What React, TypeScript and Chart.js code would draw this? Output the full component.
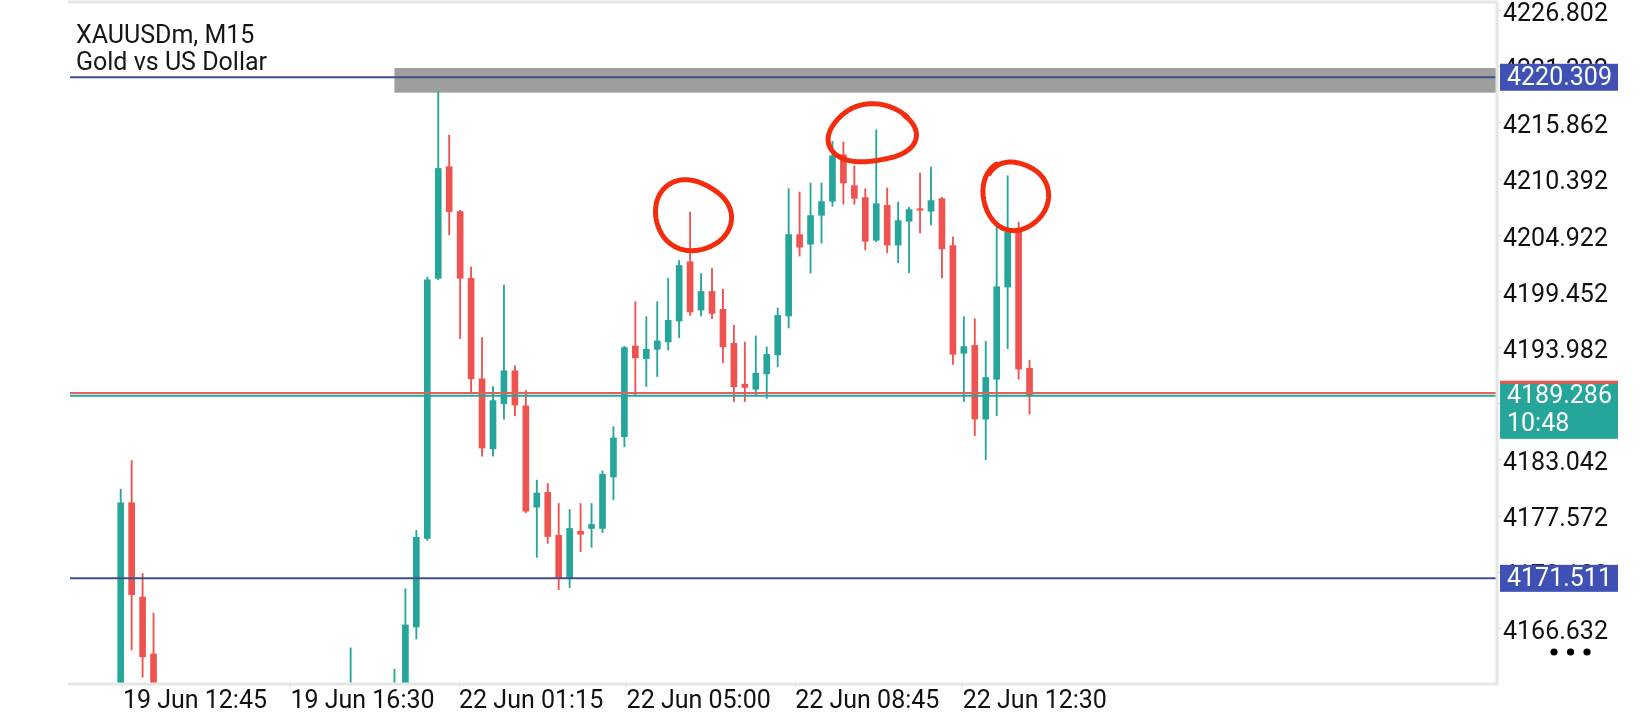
import React, { useEffect, useRef } from "react";
import { Chart, registerables } from "chart.js";

Chart.register(...registerables);

// ---------------- DATA ----------------
const symbolTitle = "XAUUSDm, M15";
const symbolName = "Gold vs US Dollar";

// bar slot (15-minute bars counted from 19 Jun 12:45)
const barNo = [
  0, 1, 2, 3, 21, 25, 26, 27, 28, 29, 30, 31, 32, 33, 34, 35, 36, 37, 38, 39, 40,
  41, 42, 43, 44, 45, 46, 47, 48, 49, 50, 51, 52, 53, 54, 55, 56, 57, 58, 59, 60,
  61, 62, 63, 64, 65, 66, 67, 68, 69, 70, 71, 72, 73, 74, 75, 76, 77, 78, 79, 80,
  81, 82, 83,
];
const opens = [
  4157.5, 4178.87, 4169.68, 4164.15, 4157.0, 4158.0, 4159.0, 4166.77, 4175.39, 4200.73, 4211.6, 4207.23, 4200.73, 4190.94, 4184.12, 4188.51, 4191.72, 4188.31, 4178.44, 4179.89, 4175.7,
  4171.51, 4176.1, 4176.37, 4176.37, 4181.38, 4185.3, 4194.14, 4192.91, 4193.82, 4194.53, 4196.57, 4202.34, 4197.64, 4199.45, 4197.71, 4194.4, 4190.42, 4189.93, 4191.42, 4193.27,
  4197.06, 4204.99, 4204.05, 4206.87, 4208.23, 4212.76, 4209.75, 4208.59, 4204.44, 4207.84, 4203.96, 4206.29, 4207.42, 4207.26, 4208.49, 4203.92, 4193.43, 4194.2, 4187.02, 4190.9,
  4199.88, 4205.25, 4191.97,
];
const highs = [
  4180.19, 4182.98, 4171.99, 4168.13, 4164.74, 4162.66, 4170.49, 4176.17, 4200.85, 4218.9, 4214.68, 4207.35, 4201.83, 4194.97, 4190.19, 4200.07, 4192.23, 4189.8, 4181.07, 4180.75, 4178.8,
  4178.21, 4178.8, 4178.8, 4181.97, 4186.28, 4194.11, 4198.45, 4196.99, 4198.45, 4200.72, 4202.47, 4207.19, 4201.2, 4201.69, 4199.65, 4196.15, 4194.53, 4195.12, 4194.05, 4197.84,
  4209.46, 4209.14, 4210.01, 4210.01, 4214.06, 4213.99, 4211.69, 4209.46, 4215.19, 4209.53, 4208.16, 4207.65, 4210.98, 4211.57, 4208.62, 4204.76, 4196.99, 4196.8, 4194.6, 4205.9,
  4210.72, 4206.22, 4192.75,
];
const lows = [
  4156.0, 4164.55, 4161.88, 4158.5, 4156.0, 4157.0, 4158.0, 4165.6, 4175.2, 4200.6, 4204.96, 4194.86, 4189.49, 4183.42, 4183.42, 4187.02, 4187.34, 4177.9, 4173.55, 4174.92, 4170.41,
  4170.61, 4174.1, 4174.53, 4175.98, 4179.19, 4184.32, 4189.29, 4190.19, 4191.16, 4193.75, 4194.95, 4197.12, 4197.06, 4196.8, 4192.52, 4188.73, 4188.73, 4189.35, 4189.03, 4192.1,
  4195.89, 4202.89, 4201.24, 4204.15, 4207.74, 4207.94, 4207.94, 4203.5, 4204.3, 4203.21, 4202.24, 4201.27, 4205.15, 4205.93, 4200.78, 4192.33, 4188.73, 4185.4, 4183.07, 4187.34,
  4193.88, 4190.9, 4187.5,
];
const closes = [
  4178.87, 4169.92, 4163.87, 4159.8, 4160.0, 4161.0, 4166.97, 4175.51, 4200.57, 4211.43, 4207.23, 4200.73, 4190.94, 4184.2, 4188.82, 4191.72, 4188.39, 4178.05, 4179.81, 4175.58, 4171.59,
  4176.37, 4175.8, 4176.76, 4181.65, 4185.18, 4193.99, 4192.98, 4193.82, 4194.63, 4196.64, 4201.98, 4197.45, 4199.45, 4197.32, 4194.05, 4190.16, 4190.1, 4191.49, 4193.33, 4197.12,
  4204.99, 4203.76, 4206.84, 4208.2, 4212.67, 4210.01, 4208.52, 4204.34, 4208.0, 4203.96, 4206.35, 4207.42, 4207.36, 4208.3, 4203.6, 4193.33, 4194.08, 4187.02, 4191.07, 4199.91,
  4205.22, 4191.88, 4189.286,
];

// time-axis labels and the bar slot where each one sits
const tickLabels = ["19 Jun 12:45", "19 Jun 16:30", "22 Jun 01:15", "22 Jun 05:00", "22 Jun 08:45", "22 Jun 12:30"];
const tickBars = [0.2, 15.5, 30.9, 46.2, 61.6, 76.9];

// price-axis tick values
const priceTicks = [
  4226.802, 4221.332, 4215.862, 4210.392, 4204.922, 4199.452, 4193.982, 4188.512, 4183.042, 4177.572,
  4172.102, 4166.632,
];

// visible window
const xRange = [-4.63, 125.69];
const yRange = [4161.22, 4227.64];

// horizontal levels
const levelPrices = [4220.309, 4171.511];
const bidPrice = 4189.286;
const askPrice = 4189.56;
const barTimer = "10:48";

// grey zone (from bar slot to right edge, between two prices)
const zoneStartBar = [25];
const zoneTop = [4221.21];
const zoneBottom = [4218.81];

// hand-drawn circles: centre in (bar slot, price)
const circleBars = [52.2, 68.6, 81.7];
const circlePrices = [4206.85, 4214.8, 4208.8];

// ---------------- STYLE ----------------
const GREEN = "#26a69a";
const RED = "#ef5350";
const LEVEL_BLUE = "#3f4e8c";
const BOX_BLUE = "#3f51b5";
const FRAME = "#e6e6e6";
const FONT = "Roboto";
const PEN = "#f42c0e";
const circleStyle = [
  { rx: 37, ry: 36, start: -2.3, sweep: 6.45, grow: 0.0, wob: [0.05, 0.5, 0.035, 1.6] },
  { rx: 42, ry: 30, start: -0.7, sweep: 6.4, grow: 0.02, wob: [0.06, 2.3, 0.05, 0.5] },
  { rx: 31.5, ry: 35.5, start: -2.5, sweep: 6.62, grow: 0.05, wob: [0.04, 1.0, 0.035, 2.1] },
];

function drawLoop(ctx: CanvasRenderingContext2D, cx: number, cy: number, st: any) {
  const n = 140;
  ctx.beginPath();
  for (let k = 0; k <= n; k++) {
    const t = st.start + (st.sweep * k) / n;
    const g = 1 - st.grow / 2 + st.grow * (k / n);
    const f = g * (1 + st.wob[0] * Math.sin(2 * t + st.wob[1]) + st.wob[2] * Math.sin(3 * t + st.wob[3]));
    const px = cx + st.rx * f * Math.cos(t);
    const py = cy + st.ry * f * Math.sin(t);
    if (k === 0) ctx.moveTo(px, py);
    else ctx.lineTo(px, py);
  }
  ctx.stroke();
}

const mt5Plugin = {
  id: "mt5Overlay",
  beforeDatasetsDraw(chart: any) {
    const { ctx, chartArea: ca, scales } = chart;
    const x = scales.x;
    const y = scales.y;
    ctx.save();
    ctx.beginPath();
    ctx.rect(ca.left, ca.top, ca.right - ca.left, ca.bottom - ca.top);
    ctx.clip();
    ctx.fillStyle = "#9e9e9e";
    for (let i = 0; i < zoneStartBar.length; i++) {
      const x0 = x.getPixelForValue(zoneStartBar[i]);
      const y0 = y.getPixelForValue(zoneTop[i]);
      const y1 = y.getPixelForValue(zoneBottom[i]);
      ctx.fillRect(x0, y0, ca.right - x0, y1 - y0);
    }
    ctx.restore();
  },
  afterDatasetsDraw(chart: any) {
    const { ctx, chartArea: ca, scales } = chart;
    const y = scales.y;
    ctx.save();
    ctx.beginPath();
    ctx.rect(ca.left, ca.top, ca.right - ca.left, ca.bottom - ca.top);
    ctx.clip();
    const hline = (p: number, color: string, w: number) => {
      const py = y.getPixelForValue(p);
      ctx.strokeStyle = color;
      ctx.lineWidth = w;
      ctx.beginPath();
      ctx.moveTo(ca.left, py);
      ctx.lineTo(ca.right, py);
      ctx.stroke();
    };
    levelPrices.forEach((p) => hline(p, LEVEL_BLUE, 2));
    hline(askPrice, "#e0625c", 2);
    hline(bidPrice, GREEN, 2);
    ctx.restore();
  },
  afterDraw(chart: any) {
    const { ctx, chartArea: ca, scales } = chart;
    const x = scales.x;
    const y = scales.y;
    ctx.save();
    // frame
    ctx.strokeStyle = FRAME;
    ctx.lineWidth = 3;
    ctx.beginPath();
    ctx.moveTo(ca.left - 2, ca.top);
    ctx.lineTo(ca.right, ca.top);
    ctx.lineTo(ca.right, ca.bottom);
    ctx.lineTo(ca.left - 2, ca.bottom);
    ctx.stroke();

    // price boxes
    const bx = ca.right + 3;
    const bw = 118;
    ctx.font = `25px ${FONT}`;
    ctx.textBaseline = "middle";
    ctx.textAlign = "left";
    levelPrices.forEach((p) => {
      const py = y.getPixelForValue(p);
      ctx.fillStyle = BOX_BLUE;
      ctx.fillRect(bx, py - 13.5, bw, 27);
      ctx.fillStyle = "#ffffff";
      ctx.fillText(p.toFixed(3), bx + 7, py + 1);
    });
    const by = y.getPixelForValue(bidPrice);
    ctx.fillStyle = GREEN;
    ctx.fillRect(bx, by - 15, bw, 58);
    ctx.fillStyle = RED;
    ctx.fillRect(bx, by - 15, bw, 3);
    ctx.fillStyle = "#ffffff";
    ctx.fillText(bidPrice.toFixed(3), bx + 7, by + 1);
    ctx.fillText(barTimer, bx + 7, by + 29);

    // hand-drawn circles
    ctx.strokeStyle = PEN;
    ctx.lineWidth = 5;
    ctx.lineCap = "round";
    ctx.lineJoin = "round";
    for (let i = 0; i < circleBars.length; i++) {
      drawLoop(ctx, x.getPixelForValue(circleBars[i]), y.getPixelForValue(circlePrices[i]), circleStyle[i]);
    }

    // header
    ctx.fillStyle = "#161616";
    ctx.textBaseline = "alphabetic";
    ctx.font = `25px ${FONT}`;
    ctx.fillText(symbolTitle, ca.left + 6, 43);
    ctx.fillText(symbolName, ca.left + 6, 70);

    // menu dots
    ctx.fillStyle = "#000000";
    [0, 1, 2].forEach((k) => {
      ctx.beginPath();
      ctx.arc(ca.right + 57 + k * 16.5, ca.bottom - 32, 3.6, 0, Math.PI * 2);
      ctx.fill();
    });
    ctx.restore();
  },
};

export default function App() {
  const ref = useRef<HTMLCanvasElement | null>(null);

  useEffect(() => {
    if (!ref.current) return;
    const bodyColors = barNo.map((_, i) => (closes[i] >= opens[i] ? GREEN : RED));
    const chart = new Chart(ref.current, {
      type: "bar",
      data: {
        datasets: [
          {
            label: "body",
            data: barNo.map((b, i) => ({ x: b, y: [opens[i], closes[i]] })) as any,
            backgroundColor: bodyColors,
            borderWidth: 0,
            barThickness: 6,
            minBarLength: 1.5,
            grouped: false,
          } as any,
          {
            label: "wick",
            data: barNo.map((b, i) => ({ x: b, y: [lows[i], highs[i]] })) as any,
            backgroundColor: bodyColors,
            borderWidth: 0,
            barThickness: 1.2,
            grouped: false,
          } as any,
        ],
      },
      options: {
        animation: false,
        responsive: false,
        devicePixelRatio: 1,
        layout: { padding: { left: 70, top: 2, right: 0, bottom: 0 } },
        plugins: { legend: { display: false }, tooltip: { enabled: false }, title: { display: false } },
        scales: {
          x: {
            type: "linear",
            min: xRange[0],
            max: xRange[1],
            offset: false,
            afterBuildTicks: (s: any) => {
              s.ticks = tickBars.map((v) => ({ value: v }));
            },
            afterFit: (s: any) => {
              s.height = 36;
              s.paddingLeft = 0;
              s.paddingRight = 0;
            },
            ticks: {
              autoSkip: false,
              maxRotation: 0,
              minRotation: 0,
              align: "start",
              padding: 0,
              color: "#111111",
              font: { family: FONT, size: 25 },
              callback: (_v: any, i: number) => tickLabels[i],
            },
            grid: { drawOnChartArea: false, offset: false, tickLength: 3, color: "#d6d6d6" },
            border: { display: false },
          } as any,
          y: {
            type: "linear",
            position: "right",
            min: yRange[0],
            max: yRange[1],
            afterBuildTicks: (s: any) => {
              s.ticks = priceTicks.map((v) => ({ value: v }));
            },
            afterFit: (s: any) => {
              s.width = 143;
              s.paddingTop = 0;
              s.paddingBottom = 0;
            },
            ticks: {
              autoSkip: false,
              padding: 2,
              labelOffset: 4,
              color: "#111111",
              font: { family: FONT, size: 25 },
              callback: (v: any) => Number(v).toFixed(3),
            },
            grid: { drawOnChartArea: false, tickLength: 4, color: "#d6d6d6" },
            border: { display: false },
          } as any,
        },
      },
      plugins: [mt5Plugin],
    });
    return () => chart.destroy();
  }, []);

  return (
    <div style={{ position: "fixed", left: 0, top: 0, width: 1640, height: 720, background: "#ffffff" }}>
      <canvas ref={ref} width={1640} height={720} style={{ width: 1640, height: 720, display: "block" }} />
    </div>
  );
}
